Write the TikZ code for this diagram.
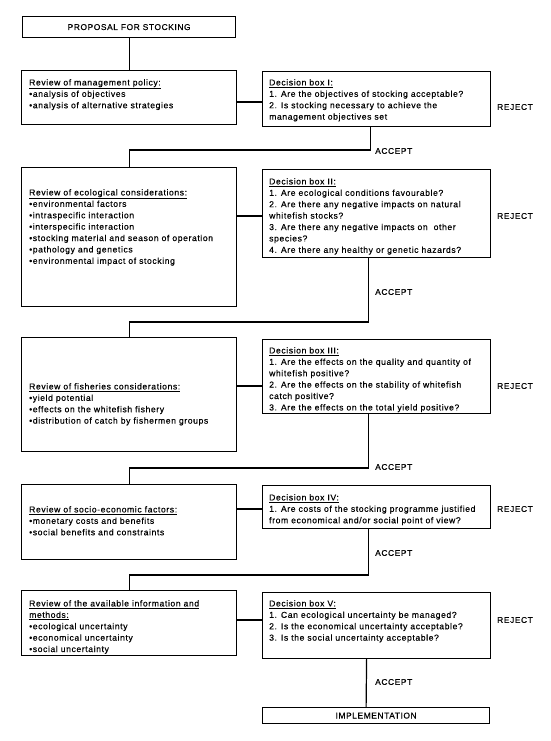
\documentclass[tikz,border=0pt]{standalone}
\usepackage{fontspec}
\setmainfont{Liberation Sans}[LetterSpace=7,FakeBold=0.4]
\usetikzlibrary{calc}
\begin{document}
\begin{tikzpicture}[x=1pt,y=-1pt,
  box/.style={draw, line width=1.2pt, inner sep=0pt, anchor=north west},
  txt/.style={anchor=north west, inner sep=0pt, align=left, font=\fontsize{8.6}{11.4}\selectfont},
  lbl/.style={anchor=west, inner sep=0pt, font=\fontsize{8.4}{10}\selectfont},
  conn/.style={line width=1.2pt}]
\useasboundingbox (0,0) rectangle (550,741);
% boxes
\node[box, minimum width=213pt, minimum height=21pt, font=\fontsize{8.4}{10}\selectfont] (p) at (22,16) {PROPOSAL FOR STOCKING};
\node[box, minimum width=215pt, minimum height=54pt] (r1) at (21,70) {};
\node[box, minimum width=228pt, minimum height=55pt] (d1) at (262,71) {};
\node[box, minimum width=215pt, minimum height=139pt] (r2) at (21,167) {};
\node[box, minimum width=228pt, minimum height=88pt] (d2) at (262,169) {};
\node[box, minimum width=215pt, minimum height=114pt] (r3) at (21,337) {};
\node[box, minimum width=228pt, minimum height=74pt] (d3) at (262,339) {};
\node[box, minimum width=215pt, minimum height=75pt] (r4) at (21,484) {};
\node[box, minimum width=228pt, minimum height=43pt] (d4) at (262,485) {};
\node[box, minimum width=215pt, minimum height=65pt] (r5) at (21,590) {};
\node[box, minimum width=228pt, minimum height=66pt] (d5) at (262,592) {};
\node[box, minimum width=227pt, minimum height=16pt, font=\fontsize{8.4}{10}\selectfont] (im) at (262,707) {IMPLEMENTATION};
% texts
\node[txt] (t1) at (29,79) {\underline{Review of management policy:}\\
  •analysis of objectives\\
  •analysis of alternative strategies};
\node[txt] (q1) at (269,79) {\underline{Decision box I:}\\
  1. Are the objectives of stocking acceptable?\\
  2. Is stocking necessary to achieve the\\
  management objectives set};
\node[txt] (t2) at (29,189) {\underline{Review of ecological considerations:}\\
  •environmental factors\\
  •intraspecific interaction\\
  •interspecific interaction\\
  •stocking material and season of operation\\
  •pathology and genetics\\
  •environmental impact of stocking};
\node[txt] (q2) at (269,178) {\underline{Decision box II:}\\
  1. Are ecological conditions favourable?\\
  2. Are there any negative impacts on natural\\
  whitefish stocks?\\
  3. Are there any negative impacts on\ \ other\\
  species?\\
  4. Are there any healthy or genetic hazards?};
\node[txt] (t3) at (29,383) {\underline{Review of fisheries considerations:}\\
  •yield potential\\
  •effects on the whitefish fishery\\
  •distribution of catch by fishermen groups};
\node[txt] (q3) at (269,347) {\underline{Decision box III:}\\
  1. Are the effects on the quality and quantity of\\
  whitefish positive?\\
  2. Are the effects on the stability of whitefish\\
  catch positive?\\
  3. Are the effects on the total yield positive?};
\node[txt] (t4) at (29,506) {\underline{Review of socio-economic factors:}\\
  •monetary costs and benefits\\
  •social benefits and constraints};
\node[txt] (q4) at (269,494) {\underline{Decision box IV:}\\
  1. Are costs of the stocking programme justified\\
  from economical and/or social point of view?};
\node[txt] (t5) at (29,600) {\underline{Review of the available information and}\\
  \underline{methods:}\\
  •ecological uncertainty\\
  •economical uncertainty\\
  •social uncertainty};
\node[txt] (q5) at (269,600) {\underline{Decision box V:}\\
  1. Can ecological uncertainty be managed?\\
  2. Is the economical uncertainty acceptable?\\
  3. Is the social uncertainty acceptable?};
% labels
\node[lbl] (rj1) at (497,107) {REJECT};
\node[lbl] (rj2) at (497,216) {REJECT};
\node[lbl] (rj3) at (497,386) {REJECT};
\node[lbl] (rj4) at (497,509) {REJECT};
\node[lbl] (rj5) at (497,620) {REJECT};
\node[lbl] (ac1) at (375,151) {ACCEPT};
\node[lbl] (ac2) at (375,292) {ACCEPT};
\node[lbl] (ac3) at (375,467) {ACCEPT};
\node[lbl] (ac4) at (375,553) {ACCEPT};
\node[lbl] (ac5) at (375,682) {ACCEPT};
% connectors
\coordinate (k1) at (0,102);
\coordinate (k2) at (0,216);
\coordinate (k3) at (0,386);
\coordinate (k4) at (0,509);
\coordinate (k5) at (0,620);
\draw[conn] (p.south) -- (r1.north);
\draw[conn] (r1.east |- k1) -- (d1.west |- k1);
\draw[conn] (r2.east |- k2) -- (d2.west |- k2);
\draw[conn] (r3.east |- k3) -- (d3.west |- k3);
\draw[conn] (r4.east |- k4) -- (d4.west |- k4);
\draw[conn] (r5.east |- k5) -- (d5.west |- k5);
\draw[conn] ([xshift=-6pt]d1.south) |- ([yshift=17pt]r2.north) -- (r2.north);
\draw[conn] ([xshift=-8pt]d2.south) |- ([yshift=15pt]r3.north) -- (r3.north);
\draw[conn] ([xshift=-8.5pt]d3.south) |- ([yshift=16pt]r4.north) -- (r4.north);
\draw[conn] ([xshift=-8.5pt]d4.south) |- ([yshift=15pt]r5.north) -- (r5.north);
\draw[conn] ([xshift=-10pt]d5.south) -- ([xshift=-10pt]im.north);
\end{tikzpicture}
\end{document}
